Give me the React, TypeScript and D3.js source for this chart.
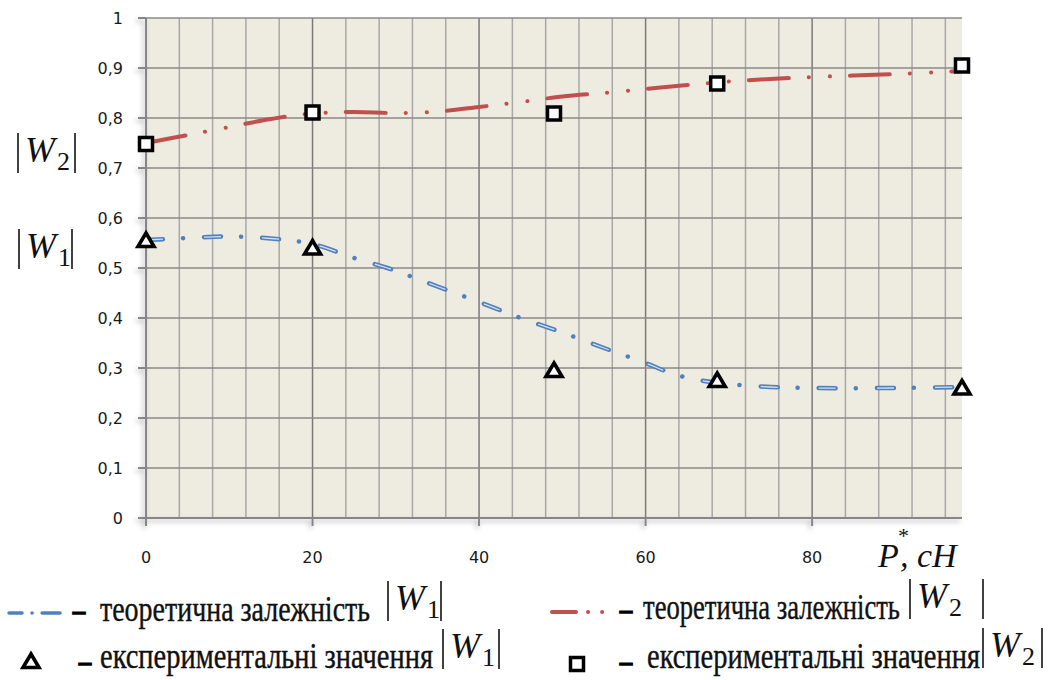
import React from 'react';
import * as d3 from 'd3';

// theoretical curves
const pTheoryW1 = [0, 5, 10, 15, 20, 25, 29, 32, 35, 40, 45, 50, 55, 60, 63, 66, 70, 75, 80, 90, 98];
const w1Theory = [0.556, 0.56, 0.563, 0.559, 0.548, 0.52, 0.5, 0.482, 0.463, 0.432, 0.4, 0.371, 0.34, 0.31, 0.29, 0.277, 0.268, 0.262, 0.26, 0.26, 0.262];
const pTheoryW2 = [0, 5, 10, 15, 20, 25, 30, 35, 40, 45, 50, 55, 60, 65, 70, 75, 80, 85, 90, 98];
const w2Theory = [0.75, 0.766, 0.782, 0.798, 0.809, 0.812, 0.81, 0.813, 0.822, 0.832, 0.843, 0.85, 0.858, 0.866, 0.873, 0.878, 0.882, 0.885, 0.888, 0.894];

// experimental values
const pExp = [0, 20, 49, 68.6, 98];
const w1Exp = [0.556, 0.541, 0.296, 0.276, 0.261];
const w2Exp = [0.748, 0.811, 0.809, 0.869, 0.905];

const xTicks = [0, 20, 40, 60, 80];
const yTicks = [0, 0.1, 0.2, 0.3, 0.4, 0.5, 0.6, 0.7, 0.8, 0.9, 1];
const yLabels = ['0', '0,1', '0,2', '0,3', '0,4', '0,5', '0,6', '0,7', '0,8', '0,9', '1'];
const legendTheory = 'теоретична залежність';
const legendExp = 'експериментальні значення';

const W = 1062;
const H = 680;
const SERIF = '"Liberation Serif", "Times New Roman", serif';
const SANS = '"DejaVu Sans", Verdana, sans-serif';

const x = d3.scaleLinear().domain([0, 98]).range([146, 962]);
const y = d3.scaleLinear().domain([0, 1]).range([518, 18]);

const line = d3
  .line<[number, number]>()
  .x((d) => x(d[0]))
  .y((d) => y(d[1]))
  .curve(d3.curveCatmullRom.alpha(0.5));

// |W_n| with bars
const AbsW = ({ left, base, sub, right }: { left: number; base: number; sub: string; right: number }) => (
  <g transform={`translate(${left},${base})`}>
    <line x1={0} x2={0} y1={-29} y2={11} stroke="#111" strokeWidth={1.6} />
    <text x={7} y={0} fontFamily={SERIF} fontStyle="italic" fontSize={36} fill="#111">W</text>
    <text x={39} y={8} fontFamily={SERIF} fontSize={26} fill="#111">{sub}</text>
    <line x1={right} x2={right} y1={-29} y2={11} stroke="#111" strokeWidth={1.6} />
  </g>
);

const Triangle = ({ cx, cy }: { cx: number; cy: number }) => (
  <path
    d={`M${cx},${cy - 7} L${cx + 8},${cy + 6.5} L${cx - 8},${cy + 6.5} Z`}
    fill="#fff"
    stroke="#000"
    strokeWidth={3.6}
    strokeLinejoin="miter"
  />
);

const Square = ({ cx, cy }: { cx: number; cy: number }) => (
  <rect x={cx - 6.5} y={cy - 6.5} width={13} height={13} fill="#fff" stroke="#000" strokeWidth={3.5} />
);

const LegendText = ({ x0, base, len, children }: { x0: number; base: number; len: number; children: string }) => (
  <text
    x={x0}
    y={base}
    fontFamily={SERIF}
    fontSize={35}
    textLength={len}
    lengthAdjust="spacingAndGlyphs"
    fill="#111"
    stroke="#111"
    strokeWidth={0.4}
  >
    {children}
  </text>
);

const Dash = ({ x0, base }: { x0: number; base: number }) => (
  <text
    x={x0}
    y={base}
    fontFamily={SERIF}
    fontWeight={700}
    fontSize={24}
    fill="#000"
    stroke="#000"
    strokeWidth={1.6}
  >
    –
  </text>
);

export default function App() {
  const vGrid = d3.range(4, 97, 4);
  const w1Path = line(pTheoryW1.map((p, i) => [p, w1Theory[i]]));
  const w2Path = line(pTheoryW2.map((p, i) => [p, w2Theory[i]]));

  return (
    <div style={{ position: 'absolute', left: 0, top: 0 }}>
      <svg width={W} height={H} style={{ display: 'block', background: '#fff' }}>
        <defs>
          <filter id="shadow" x="-10%" y="-10%" width="120%" height="120%">
            <feDropShadow dx={-2} dy={3} stdDeviation={2.5} floodColor="#000" floodOpacity={0.3} />
          </filter>
        </defs>

        {/* plot background */}
        <rect x={x(0)} y={y(1)} width={x(98) - x(0)} height={y(0) - y(1)} fill="#EEEBE0" />

        {/* vertical grid */}
        {vGrid.map((v) => (
          <line
            key={'v' + v}
            x1={x(v)}
            x2={x(v)}
            y1={y(1)}
            y2={y(0)}
            stroke={v % 20 === 0 ? '#7a7a7a' : '#a8a8a8'}
            strokeWidth={1.5}
          />
        ))}
        {/* horizontal grid */}
        {yTicks.slice(1).map((t) => (
          <line key={'h' + t} x1={x(0)} x2={x(98)} y1={y(t)} y2={y(t)} stroke="#8a8a8a" strokeWidth={1.5} />
        ))}

        {/* axes */}
        <g filter="url(#shadow)">
          <line x1={x(0)} x2={x(0)} y1={y(1)} y2={y(0)} stroke="#868686" strokeWidth={2} />
          <line x1={x(0)} x2={x(98)} y1={y(0)} y2={y(0)} stroke="#868686" strokeWidth={2} />
          {yTicks.map((t) => (
            <line key={'yt' + t} x1={x(0) - 8} x2={x(0)} y1={y(t)} y2={y(t)} stroke="#868686" strokeWidth={2} />
          ))}
          {xTicks.map((t) => (
            <line key={'xt' + t} x1={x(t)} x2={x(t)} y1={y(0)} y2={y(0) + 8} stroke="#868686" strokeWidth={2} />
          ))}
        </g>

        {/* tick labels */}
        {yTicks.map((t, i) => (
          <text key={'yl' + t} x={123} y={y(t) + 6} textAnchor="end" fontFamily={SANS} fontSize={16} fill="#1a1a1a">
            {yLabels[i]}
          </text>
        ))}
        {xTicks.map((t) => (
          <text key={'xl' + t} x={x(t)} y={563} textAnchor="middle" fontFamily={SANS} fontSize={16} fill="#1a1a1a">
            {t}
          </text>
        ))}

        {/* x axis title */}
        <text x={878} y={567} fontFamily={SERIF} fontStyle="italic" fontSize={34} fill="#111">P</text>
        <text x={898} y={543} fontFamily={SERIF} fontSize={22} fill="#111">*</text>
        <text x={900} y={567} fontFamily={SERIF} fontStyle="italic" fontSize={34} fill="#111">, cH</text>

        {/* y axis titles */}
        <AbsW left={18} base={162} sub="2" right={57} />
        <AbsW left={19} base={258} sub="1" right={53} />

        {/* theoretical curves */}
        <path
          d={w2Path ?? ''}
          fill="none"
          stroke="#C0504D"
          strokeWidth={4}
          strokeLinecap="round"
          strokeDasharray="40 20 0.1 21 0.1 20"
        />
        <path
          d={w1Path ?? ''}
          fill="none"
          stroke="#4F81BD"
          strokeWidth={4.5}
          strokeLinecap="round"
          strokeDasharray="17 20 0.1 21"
        />
        <path
          d={w1Path ?? ''}
          fill="none"
          stroke="#D4E0F0"
          strokeWidth={1.3}
          strokeDasharray="17 41.1"
        />

        {/* experimental markers */}
        {pExp.map((p, i) => (
          <Square key={'s' + i} cx={x(p)} cy={y(w2Exp[i])} />
        ))}
        {pExp.map((p, i) => (
          <Triangle key={'t' + i} cx={x(p)} cy={y(w1Exp[i])} />
        ))}

        {/* legend */}
        <line x1={9} x2={60} y1={613} y2={613} stroke="#4F81BD" strokeWidth={3.5} strokeLinecap="round" strokeDasharray="13 10 0.1 10 20" />
        <Dash x0={73} base={619} />
        <LegendText x0={100} base={621} len={270}>{legendTheory}</LegendText>
        <AbsW left={388} base={610} sub="1" right={53} />

        <Triangle cx={31} cy={661} />
        <Dash x0={79} base={670} />
        <LegendText x0={100} base={668} len={333}>{legendExp}</LegendText>
        <AbsW left={443} base={658} sub="1" right={56} />

        <line x1={552} x2={606} y1={612} y2={612} stroke="#C0504D" strokeWidth={4} strokeLinecap="round" strokeDasharray="24 12 0.1 14 0.1 100" />
        <Dash x0={620} base={618} />
        <LegendText x0={643} base={619} len={257}>{legendTheory}</LegendText>
        <AbsW left={910} base={608} sub="2" right={73} />

        <Square cx={577} cy={664} />
        <Dash x0={620} base={670} />
        <LegendText x0={647} base={668} len={333}>{legendExp}</LegendText>
        <AbsW left={983} base={657} sub="2" right={59} />
      </svg>
    </div>
  );
}
